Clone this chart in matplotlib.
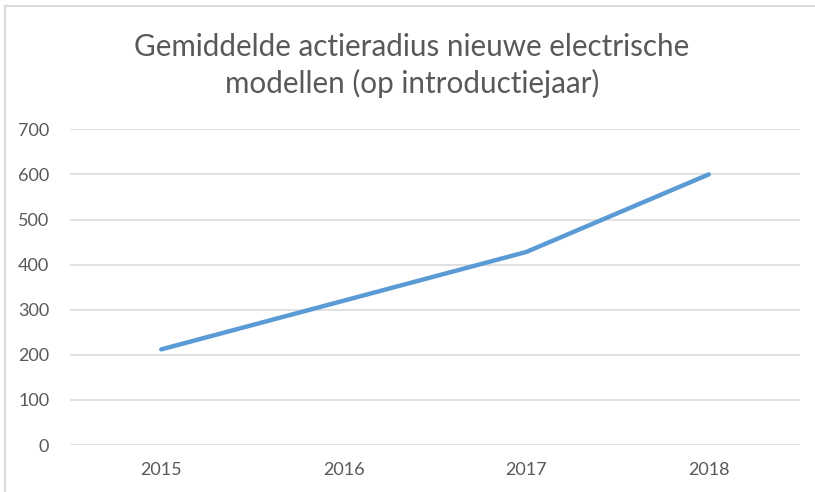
import matplotlib
matplotlib.use('Agg')
import matplotlib.pyplot as plt
from matplotlib.lines import Line2D

years = ['2015', '2016', '2017', '2018']
radius = [212, 320, 428, 600]
yticks = [0, 100, 200, 300, 400, 500, 600, 700]

plt.rcParams['font.family'] = ['Lato', 'DejaVu Sans']

fig = plt.figure(figsize=(8.15, 4.92), dpi=100)
ax = fig.add_axes([70/815, 1-445/492, 730/815, (445-129.3)/492])

x = list(range(len(years)))
ax.plot(x, radius, color='#5B9BD5', lw=3.2, solid_capstyle='round', solid_joinstyle='round', zorder=3)

ax.set_xlim(-0.5, len(years)-0.5)
ax.set_ylim(0, 700)
ax.set_yticks(yticks)
ax.set_xticks(x)
ax.set_xticklabels(years)
ax.tick_params(axis='both', length=0, labelsize=13, labelcolor='#595959')
ax.tick_params(axis='y', pad=15)
ax.tick_params(axis='x', pad=12)
ax.grid(axis='y', color='#D9D9D9', lw=1.1)
ax.set_axisbelow(True)
for s in ax.spines.values():
    s.set_visible(False)

fig.text(412/815, 1-47/492, 'Gemiddelde actieradius nieuwe electrische', ha='center', va='center',
         fontsize=21.3, color='#595959')
fig.text(412/815, 1-83/492, 'modellen (op introductiejaar)', ha='center', va='center',
         fontsize=21.3, color='#595959')

# chart border (top and left edges visible)
fig.add_artist(Line2D([5/815, 1], [1-6/492, 1-6/492], transform=fig.transFigure, color='#D9D9D9', lw=1.5))
fig.add_artist(Line2D([5/815, 5/815], [0, 1-6/492], transform=fig.transFigure, color='#D9D9D9', lw=1.5))

fig.savefig('out.png', dpi=100)
